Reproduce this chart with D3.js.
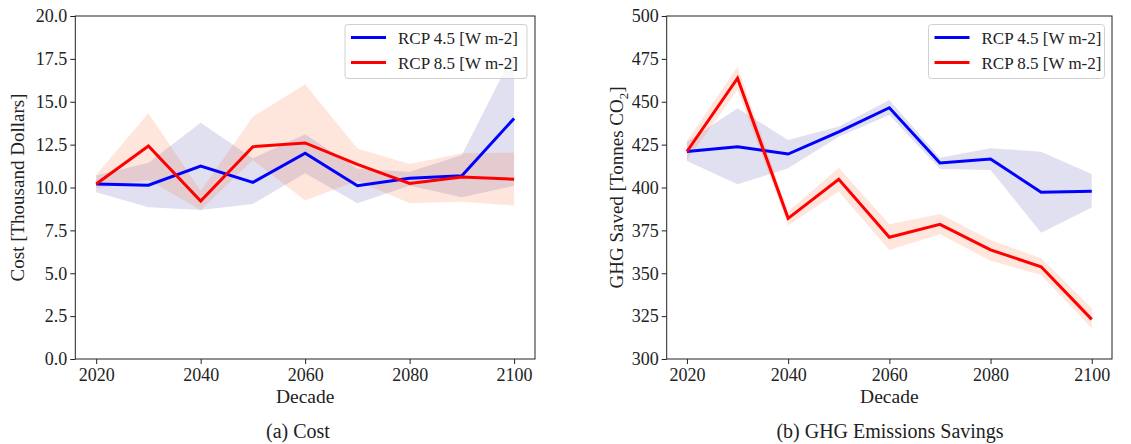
<!DOCTYPE html>
<html>
<head>
<meta charset="utf-8">
<script src="https://cdn.jsdelivr.net/npm/d3@7"></script>
<style>
  body { margin: 0; background: #fff; }
  svg text { font-family: "Liberation Serif", "DejaVu Serif", serif; fill: #222; }
</style>
</head>
<body>
<svg id="chart"></svg>
<script>
// decades on the x axis
var decades = [2020, 2030, 2040, 2050, 2060, 2070, 2080, 2090, 2100];
var seriesNames = ["RCP 4.5 [W m-2]", "RCP 8.5 [W m-2]"];

// (a) cost, thousand dollars
var costRcp45   = [10.2, 10.13, 11.25, 10.3, 12.0, 10.1, 10.54, 10.69, 14.03];
var costRcp45Lo = [9.72, 8.85, 8.69, 9.04, 10.83, 9.08, 10.1, 9.43, 10.1];
var costRcp45Hi = [10.7, 11.45, 13.78, 11.7, 13.1, 11.1, 10.92, 11.9, 17.9];
var costRcp85   = [10.2, 12.42, 9.21, 12.38, 12.6, 11.35, 10.24, 10.61, 10.48];
var costRcp85Lo = [9.95, 10.44, 8.69, 11.6, 9.24, 10.4, 9.08, 9.17, 8.94];
var costRcp85Hi = [10.75, 14.33, 9.81, 14.13, 16.02, 12.28, 11.37, 12.0, 12.03];

// (b) GHG saved, tonnes CO2
var ghgRcp45   = [421, 423.8, 419.5, 432.5, 446.5, 414.3, 416.6, 397.2, 397.8];
var ghgRcp45Lo = [415.5, 401.9, 411.2, 429.6, 442.3, 410.8, 410.2, 373.6, 388.4];
var ghgRcp45Hi = [426.7, 446.2, 427.7, 435.5, 451, 417.4, 422.9, 420.9, 407.9];
var ghgRcp85   = [421, 463.7, 382, 404.8, 371, 378.5, 363.6, 353.8, 323.1];
var ghgRcp85Lo = [416, 456.9, 378, 397.6, 363.6, 372.7, 357.3, 349, 317.9];
var ghgRcp85Hi = [427, 470.4, 386, 411.5, 378.5, 384.5, 369.4, 358.7, 329.6];

var costTicks = [0, 2.5, 5, 7.5, 10, 12.5, 15, 17.5, 20];
var ghgTicks = [300, 325, 350, 375, 400, 425, 450, 475, 500];
var xTicks = [2020, 2040, 2060, 2080, 2100];

var svgWidth = 1131;
var svgHeight = 444;

var svg = d3.select("#chart")
  .attr("width", svgWidth)
  .attr("height", svgHeight);

var lineColors = ["#0000ff", "#ff0000"];
var bandColors = [{ fill: "#000080", op: 0.12 }, { fill: "#ff5a1e", op: 0.15 }];

function drawPanel(p) {
  var x = d3.scaleLinear().domain([2016, 2104]).range([p.left, p.right]);
  var y = d3.scaleLinear().domain(p.yDomain).range([p.bottom, p.top]);

  var g = svg.append("g");

  // shaded spread bands first
  p.series.forEach(function(s, i) {
    var area = d3.area()
      .x((d, j) => x(decades[j]))
      .y0((d, j) => y(s.lo[j]))
      .y1((d, j) => y(s.hi[j]));
    g.append("path")
      .attr("d", area(s.mid))
      .attr("fill", bandColors[i].fill)
      .attr("fill-opacity", bandColors[i].op);
  });

  // mean lines
  p.series.forEach(function(s, i) {
    var line = d3.line()
      .x((d, j) => x(decades[j]))
      .y(d => y(d));
    g.append("path")
      .attr("d", line(s.mid))
      .attr("fill", "none")
      .attr("stroke", lineColors[i])
      .attr("stroke-width", 3)
      .attr("stroke-linejoin", "miter");
  });

  // axes
  var bottomAxis = d3.axisBottom(x).tickValues(xTicks).tickFormat(d3.format("d"))
    .tickSize(5).tickPadding(4);
  var leftAxis = d3.axisLeft(y).tickValues(p.yTicks).tickFormat(p.yFormat)
    .tickSize(5).tickPadding(3);

  var gx = g.append("g")
    .attr("transform", `translate(0, ${p.bottom})`)
    .call(bottomAxis);
  var gy = g.append("g")
    .attr("transform", `translate(${p.left}, 0)`)
    .call(leftAxis);
  [gx, gy].forEach(function(a) {
    a.select(".domain").remove();
    a.selectAll(".tick line").attr("stroke", "#222");
    a.selectAll(".tick text").style("font-size", "18px").attr("fill", "#222");
  });

  // frame
  g.append("rect")
    .attr("x", p.left).attr("y", p.top)
    .attr("width", p.right - p.left).attr("height", p.bottom - p.top)
    .attr("fill", "none").attr("stroke", "#222").attr("stroke-width", 1);

  // legend
  var lg = g.append("g").attr("transform", `translate(${p.legend[0]}, ${p.legend[1]})`);
  lg.append("rect")
    .attr("width", p.legend[2]).attr("height", 54)
    .attr("rx", 3)
    .attr("fill", "#fff").attr("fill-opacity", 0.8)
    .attr("stroke", "#d0d0d0");
  seriesNames.forEach(function(name, i) {
    var yy = 13 + i * 25;
    lg.append("line")
      .attr("x1", 6).attr("x2", 41).attr("y1", yy).attr("y2", yy)
      .attr("stroke", lineColors[i]).attr("stroke-width", 3);
    lg.append("text")
      .attr("x", 53).attr("y", yy + 6)
      .style("font-size", "17px")
      .text(name);
  });

  // axis labels
  var cx = (p.left + p.right) / 2;
  g.append("text")
    .attr("x", cx).attr("y", 403)
    .attr("text-anchor", "middle")
    .style("font-size", "19.5px")
    .text("Decade");

  var yl = g.append("text")
    .attr("transform", `translate(${p.yLabelX}, ${(p.top + p.bottom) / 2}) rotate(-90)`)
    .attr("text-anchor", "middle")
    .style("font-size", "19px");
  yl.append("tspan").text(p.yLabel);
  if (p.sub) {
    yl.append("tspan").attr("dy", 5).style("font-size", "13px").text(p.sub);
    yl.append("tspan").attr("dy", -5).text("]");
  }

  // subfigure caption
  g.append("text")
    .attr("x", p.captionX).attr("y", 438)
    .attr("text-anchor", "middle")
    .style("font-size", "20px")
    .text(p.caption);
}

drawPanel({
  left: 75.3, right: 535, top: 16, bottom: 359,
  yDomain: [0, 20], yTicks: costTicks, yFormat: d3.format(".1f"),
  series: [
    { mid: costRcp45, lo: costRcp45Lo, hi: costRcp45Hi },
    { mid: costRcp85, lo: costRcp85Lo, hi: costRcp85Hi }
  ],
  legend: [345, 24.5, 182],
  yLabel: "Cost [Thousand Dollars]",
  yLabelX: 24,
  caption: "(a) Cost",
  captionX: 298
});

drawPanel({
  left: 666.7, right: 1112, top: 16, bottom: 359,
  yDomain: [300, 500], yTicks: ghgTicks, yFormat: d3.format("d"),
  series: [
    { mid: ghgRcp45, lo: ghgRcp45Lo, hi: ghgRcp45Hi },
    { mid: ghgRcp85, lo: ghgRcp85Lo, hi: ghgRcp85Hi }
  ],
  legend: [928.5, 24.5, 176],
  yLabel: "GHG Saved [Tonnes CO",
  sub: "2",
  yLabelX: 623,
  caption: "(b) GHG Emissions Savings",
  captionX: 890
});
</script>
</body>
</html>
